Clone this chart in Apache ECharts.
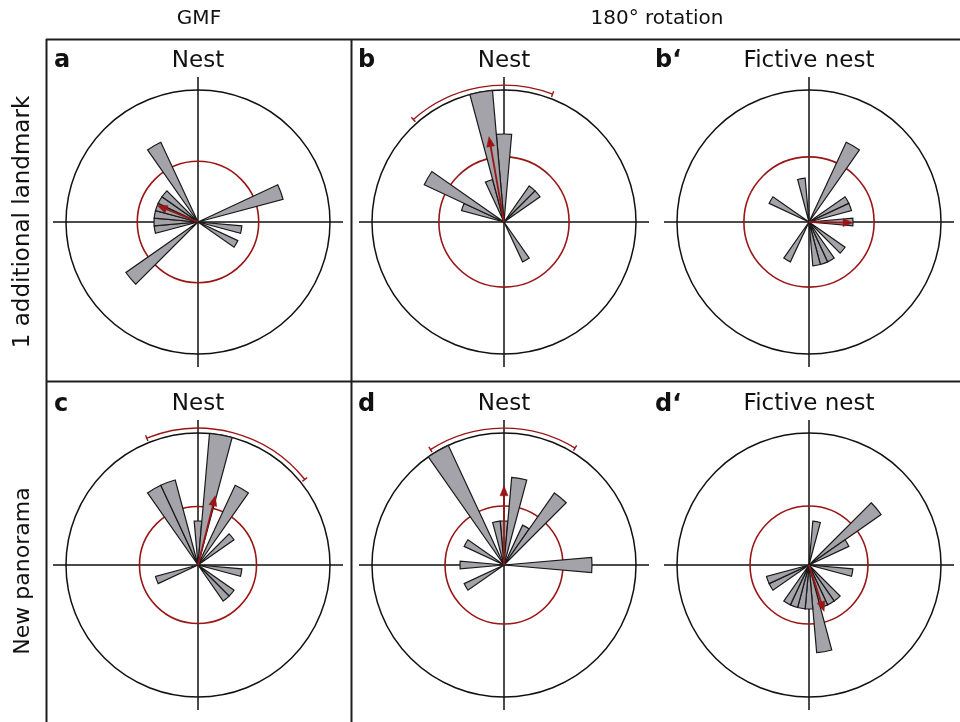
<!DOCTYPE html>
<html><head><meta charset="utf-8">
<script src="https://cdn.jsdelivr.net/npm/echarts@6/dist/echarts.min.js"></script>
<style>html,body{margin:0;padding:0;background:#fff}#c{width:960px;height:722px}</style>
</head><body><div id="c"></div>
<script>
// ---------- data ----------
const binLabels = ['0','10','20','30','40','50','60','70','80','90','100','110','120','130','140','150','160','170',
  '180','190','200','210','220','230','240','250','260','270','280','290','300','310','320','330','340','350'];
const columnHeaders = ['GMF', '180° rotation'];
const rowLabels = ['1 additional landmark', 'New panorama'];
const panelLetters = ['a', 'b', 'b‘', 'c', 'd', 'd‘'];
const panelTitles = ['Nest', 'Nest', 'Fictive nest', 'Nest', 'Nest', 'Fictive nest'];

// counts per 10° bin (bin centred on label)
const countsA  = [0,0,0,0,0,0,0,2,0,0, 1,0,1,0,0,0,0,0,0,0, 0,0,0,2,0,0,1,1,1,1, 1,1,0,2,0,0];
const countsB  = [2,0,0,0,1,1,0,0,0,0, 0,0,0,0,0,1,0,0,0,0, 0,0,0,0,0,0,0,0,0,1, 2,0,0,0,1,3];
const countsB2 = [0,0,0,2,0,0,1,1,0,1, 0,0,0,1,0,1,1,1,0,0, 0,1,0,0,0,0,0,0,0,0, 1,0,0,0,0,1];
const countsC  = [1,3,0,2,0,1,0,0,0,0, 1,0,0,1,1,0,0,0,0,0, 0,0,0,0,0,1,0,0,0,0, 0,0,0,2,2,0];
const countsD  = [1,2,0,1,2,0,0,0,0,2, 0,0,0,0,0,0,0,0,0,0, 0,0,0,0,1,0,0,1,0,0, 1,0,0,3,0,1];
const countsD2 = [0,1,0,0,0,2,1,0,0,0, 1,0,0,0,1,1,1,2,1,1, 1,1,0,0,1,1,0,0,0,0, 0,0,0,0,0,0];

const outerMax = 3;                                   // value of the outer circle
const meanDirection  = [292, 350, 91, 14, 0, 162];    // degrees, clockwise from north
const meanLength     = [1.0, 1.97, 1.0, 1.62, 1.8, 1.11];
const criticalRadius = [1.38, 1.48, 1.48, 1.33, 1.34, 1.34];
const ciLower = [null, 318.5, null, 338, 327.5, null];
const ciUpper = [null, 20.8, null, 51.3, 31.3, null];

// ---------- layout / style ----------
const allCounts = [countsA, countsB, countsB2, countsC, countsD, countsD2];
const centers = [[198, 222], [504, 222], [809, 222], [198, 565], [504, 565], [809, 565]];
const R_OUT = 132, R_CROSS = 145;
const ARC_R = 3.11;
const RED = '#9a1616';
const FONT = '"DejaVu Sans", "Liberation Sans", sans-serif';

const polar = [], angleAxis = [], radiusAxis = [], series = [];
const hiddenAxis = { axisLine: { show: false }, axisTick: { show: false }, axisLabel: { show: false }, splitLine: { show: false }, splitArea: { show: false } };

allCounts.forEach((counts, i) => {
  const c = centers[i];
  // 0: crosshair
  polar.push({ center: c, radius: R_CROSS });
  angleAxis.push({ polarIndex: 3 * i, type: 'value', min: 0, max: 360, interval: 90, startAngle: 90, clockwise: true,
    axisLine: { show: false }, axisTick: { show: false }, axisLabel: { show: false },
    splitLine: { show: true, lineStyle: { color: '#111', width: 1.5 } }, splitArea: { show: false } });
  radiusAxis.push(Object.assign({ polarIndex: 3 * i, type: 'value', min: 0, max: 1 }, hiddenAxis));
  // 1: value angle axis for circle / arrow / arc
  polar.push({ center: c, radius: R_OUT });
  angleAxis.push(Object.assign({ polarIndex: 3 * i + 1, type: 'value', min: 0, max: 360, startAngle: 90, clockwise: true }, hiddenAxis));
  radiusAxis.push(Object.assign({ polarIndex: 3 * i + 1, type: 'value', min: 0, max: outerMax }, hiddenAxis));
  // 2: category bins for bars
  polar.push({ center: c, radius: R_OUT });
  angleAxis.push({ polarIndex: 3 * i + 2, type: 'category', data: binLabels, startAngle: 95, clockwise: true, boundaryGap: true,
    axisLine: { show: true, lineStyle: { color: '#111', width: 1.5 } }, axisTick: { show: false }, axisLabel: { show: false },
    splitLine: { show: false }, splitArea: { show: false } });
  radiusAxis.push(Object.assign({ polarIndex: 3 * i + 2, type: 'value', min: 0, max: outerMax }, hiddenAxis));

  // critical (red) circle
  series.push({ type: 'custom', coordinateSystem: 'polar', polarIndex: 3 * i + 1, z: 1, silent: true,
    data: [[criticalRadius[i], 0]],
    renderItem: (params, api) => {
      const o = api.coord([0, 0]);
      const p = api.coord([api.value(0), api.value(1)]);
      return { type: 'circle', shape: { cx: o[0], cy: o[1], r: Math.hypot(p[0] - o[0], p[1] - o[1]) },
        style: { fill: 'none', stroke: RED, lineWidth: 1.6 } };
    } });
  // bars
  series.push({ type: 'bar', coordinateSystem: 'polar', polarIndex: 3 * i + 2, z: 2, silent: true,
    data: counts.map(v => v > 0 ? v : '-'), barCategoryGap: '0%', barGap: '0%',
    itemStyle: { color: '#a3a3a9', borderColor: '#1a1a1a', borderWidth: 1.2 } });
  // mean vector + confidence arc
  series.push({ type: 'custom', coordinateSystem: 'polar', polarIndex: 3 * i + 1, z: 4, silent: true,
    data: [[meanLength[i], meanDirection[i], ciLower[i] == null ? NaN : ciLower[i], ciUpper[i] == null ? NaN : ciUpper[i]]],
    renderItem: (params, api) => {
      const o = api.coord([0, 0]);
      const children = [];
      const lo = api.value(2), hi = api.value(3);
      if (!isNaN(lo) && !isNaN(hi)) {
        const p1 = api.coord([ARC_R, lo]), p2 = api.coord([ARC_R, hi]);
        const r = Math.hypot(p1[0] - o[0], p1[1] - o[1]);
        const a1 = Math.atan2(p1[1] - o[1], p1[0] - o[0]);
        let a2 = Math.atan2(p2[1] - o[1], p2[0] - o[0]);
        if (a2 < a1) a2 += 2 * Math.PI;
        children.push({ type: 'arc', shape: { cx: o[0], cy: o[1], r, startAngle: a1, endAngle: a2, clockwise: true },
          style: { stroke: RED, fill: 'none', lineWidth: 1.4 } });
        [lo, hi].forEach(a => {
          const q1 = api.coord([ARC_R - 0.07, a]), q2 = api.coord([ARC_R + 0.07, a]);
          children.push({ type: 'line', shape: { x1: q1[0], y1: q1[1], x2: q2[0], y2: q2[1] }, style: { stroke: RED, lineWidth: 1.4 } });
        });
      }
      const tip = api.coord([api.value(0), api.value(1)]);
      const dx = tip[0] - o[0], dy = tip[1] - o[1], L = Math.hypot(dx, dy);
      const ux = dx / L, uy = dy / L, HL = 10, HW = 4;
      const bx = tip[0] - ux * HL, by = tip[1] - uy * HL;
      children.push({ type: 'line', shape: { x1: o[0], y1: o[1], x2: bx + ux * 2, y2: by + uy * 2 }, style: { stroke: RED, lineWidth: 1.8 } });
      children.push({ type: 'polygon', shape: { points: [[tip[0], tip[1]], [bx - uy * HW, by + ux * HW], [bx + uy * HW, by - ux * HW]] },
        style: { fill: RED, stroke: RED, lineWidth: 0.5 } });
      return { type: 'group', children };
    } });
});

// ---------- text & frame ----------
const graphic = [];
const frame = [[46, 39.5, 960, 39.5], [46.5, 39, 46.5, 722], [351.5, 39, 351.5, 722], [46, 381.5, 960, 381.5]];
frame.forEach(f => graphic.push({ type: 'line', silent: true, shape: { x1: f[0], y1: f[1], x2: f[2], y2: f[3] }, style: { stroke: '#1e1e1e', lineWidth: 2 } }));
const headerX = [199, 657];
columnHeaders.forEach((t, k) => graphic.push({ type: 'text', x: headerX[k], y: 19,
  style: { text: t, fontSize: 20, fontFamily: FONT, fill: '#111', align: 'center', verticalAlign: 'middle' } }));
const rowY = [222, 571], rowSize = [23, 22];
rowLabels.forEach((t, k) => graphic.push({ type: 'text', x: 23, y: rowY[k], rotation: Math.PI / 2,
  style: { text: t, fontSize: rowSize[k], fontFamily: FONT, fill: '#111', align: 'center', verticalAlign: 'middle' } }));
const letterX = [54, 358, 655, 54, 358, 655];
panelLetters.forEach((t, k) => {
  const rowYc = k < 3 ? 61 : 404.5;
  graphic.push({ type: 'text', x: letterX[k], y: rowYc,
    style: { text: t, fontSize: 24, fontWeight: 'bold', fontFamily: FONT, fill: '#111', align: 'left', verticalAlign: 'middle' } });
  graphic.push({ type: 'text', x: centers[k][0], y: rowYc,
    style: { text: panelTitles[k], fontSize: 23, fontFamily: FONT, fill: '#111', align: 'center', verticalAlign: 'middle' } });
});

const chart = echarts.init(document.getElementById('c'), null, { renderer: 'canvas', width: 960, height: 722 });
chart.setOption({ animation: false, backgroundColor: '#fff', polar, angleAxis, radiusAxis, series, graphic });
</script>
</body></html>
